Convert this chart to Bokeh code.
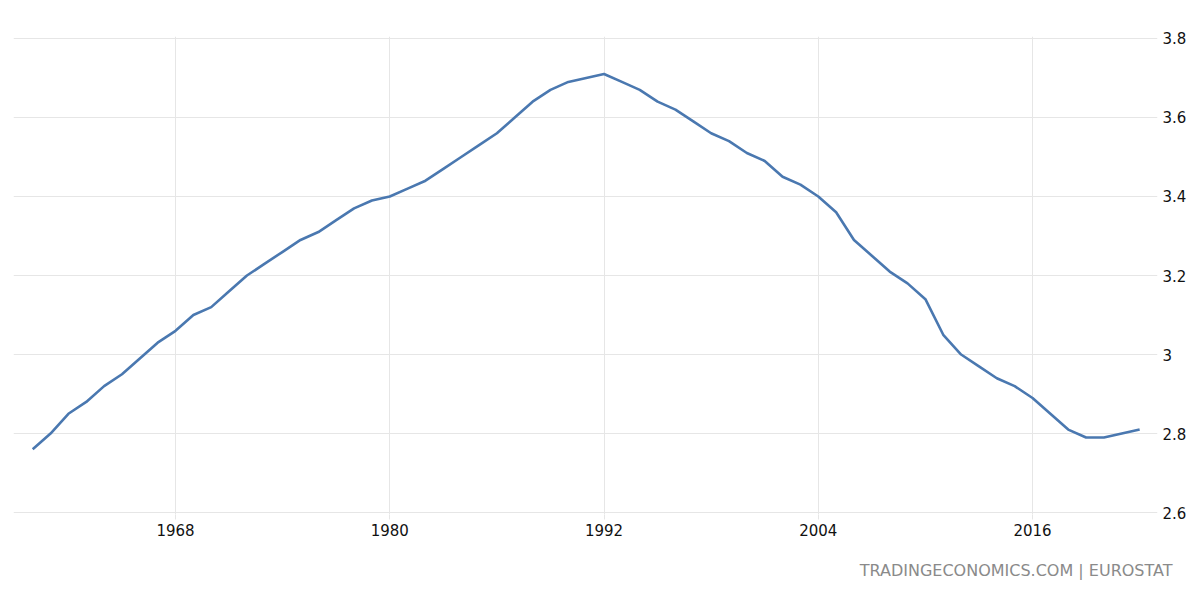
from bokeh.plotting import figure
from bokeh.models import Range1d, FixedTicker, Title, ColumnDataSource
from bokeh.embed import file_html
from bokeh.resources import INLINE

years = list(range(1960, 2023))
values = [2.76, 2.80, 2.85, 2.88, 2.92, 2.95, 2.99, 3.03, 3.06, 3.10,
          3.12, 3.16, 3.20, 3.23, 3.26, 3.29, 3.31, 3.34, 3.37, 3.39,
          3.40, 3.42, 3.44, 3.47, 3.50, 3.53, 3.56, 3.60, 3.64, 3.67,
          3.69, 3.70, 3.71, 3.69, 3.67, 3.64, 3.62, 3.59, 3.56, 3.54,
          3.51, 3.49, 3.45, 3.43, 3.40, 3.36, 3.29, 3.25, 3.21, 3.18,
          3.14, 3.05, 3.00, 2.97, 2.94, 2.92, 2.89, 2.85, 2.81, 2.79,
          2.79, 2.80, 2.81]
x_ticks = [1968, 1980, 1992, 2004, 2016]
y_ticks = [2.6, 2.8, 3.0, 3.2, 3.4, 3.6, 3.8]
y_tick_labels = ["2.6", "2.8", "3", "3.2", "3.4", "3.6", "3.8"]
source_text = "TRADINGECONOMICS.COM | EUROSTAT"

src = ColumnDataSource(dict(year=years, value=values))

p = figure(width=1200, height=600, output_backend="svg", toolbar_location=None,
           x_range=Range1d(1958.925, 2023.0), y_range=Range1d(2.595, 3.805),
           y_axis_location="right",
           min_border_left=13, min_border_right=43, min_border_top=36, min_border_bottom=86)
p.outline_line_color = None
p.background_fill_color = "white"
p.border_fill_color = "white"

p.line("year", "value", source=src, line_color="#4a78b0", line_width=2.6)

grid_color = "#e6e6e6"
p.xaxis.ticker = FixedTicker(ticks=x_ticks)
p.xgrid.ticker = FixedTicker(ticks=x_ticks)
p.yaxis.ticker = FixedTicker(ticks=y_ticks)
p.ygrid.ticker = FixedTicker(ticks=y_ticks)
p.xgrid.grid_line_color = grid_color
p.ygrid.grid_line_color = grid_color
p.yaxis.major_label_overrides = {t: l for t, l in zip(y_ticks, y_tick_labels)}

for ax in (p.xaxis[0], p.yaxis[0]):
    ax.axis_line_color = None
    ax.minor_tick_line_color = None
    ax.major_label_text_font = "DejaVu Sans"
    ax.major_label_text_font_size = "15px"
    ax.major_label_text_color = "#111111"

p.xaxis.major_tick_line_color = grid_color
p.xaxis.major_tick_in = 0
p.xaxis.major_tick_out = 5
p.xaxis.major_label_standoff = 4
p.yaxis.major_tick_line_color = None
p.yaxis.major_tick_in = 0
p.yaxis.major_tick_out = 0
p.yaxis.major_label_standoff = 5

src_title = Title(text=source_text, align="right", offset=-15, standoff=40,
                  text_font="DejaVu Sans", text_font_size="16px",
                  text_font_style="normal", text_color="#8a8a8a")
p.add_layout(src_title, "below")

open("out.html", "w").write(file_html(p, INLINE))
